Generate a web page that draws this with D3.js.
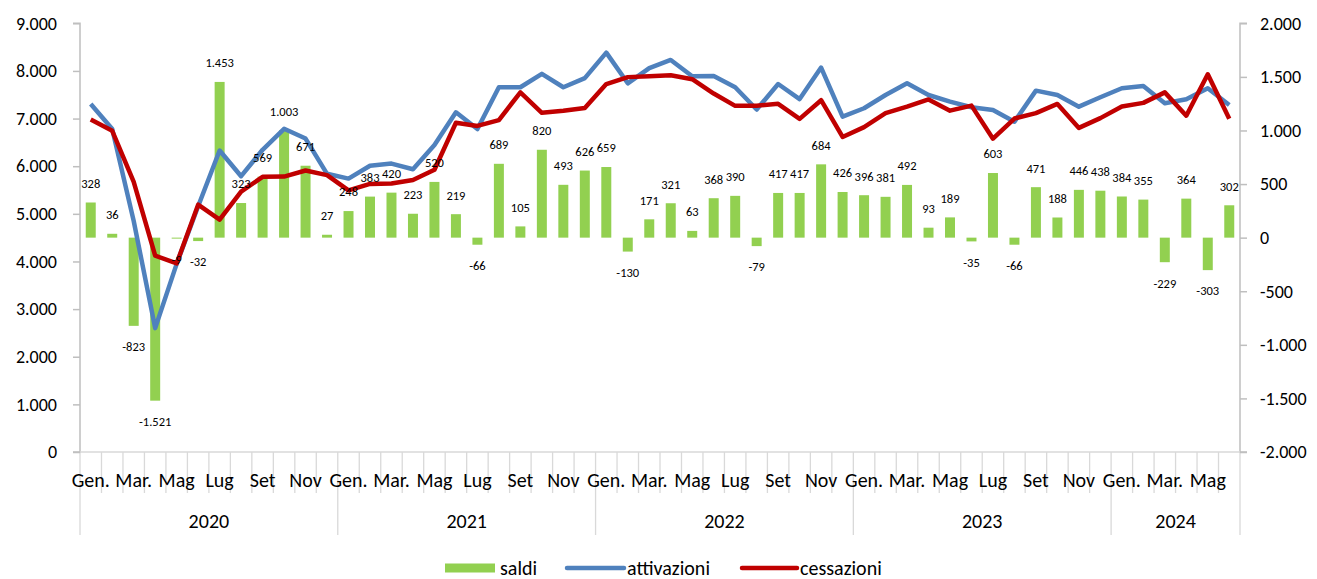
<!DOCTYPE html>
<html>
<head>
<meta charset="utf-8">
<script src="https://cdn.jsdelivr.net/npm/d3@7"></script>
<style>
  html, body { margin: 0; padding: 0; background: #fff; }
  svg { display: block; font-family: Carlito, Lato, "Liberation Sans", sans-serif; }
</style>
</head>
<body>
<svg id="chart" width="1317" height="579"></svg>
<script>
// ---- data ----
const years = ["2020", "2021", "2022", "2023", "2024"];
const monthsShown = ["Gen.", "", "Mar.", "", "Mag", "", "Lug", "", "Set", "", "Nov", ""];
const saldi = [
  328, 36, -823, -1521, -9, -32, 1453, 323, 569, 1003, 671, 27,
  248, 383, 420, 223, 520, 219, -66, 689, 105, 820, 493, 626,
  659, -130, 171, 321, 63, 368, 390, -79, 417, 417, 684, 426,
  396, 381, 492, 93, 189, -35, 603, -66, 471, 188, 446, 438,
  384, 355, -229, 364, -303, 302
];
const attivazioni = [
  7306, 6780, 4850, 2600, 3950, 5160, 6330, 5790, 6345, 6785, 6580, 5840,
  5740, 6010, 6055, 5935, 6446, 7132, 6780, 7657, 7657, 7940, 7657, 7850,
  8384, 7740, 8060, 8230, 7890, 7894, 7657, 7190, 7726, 7410, 8070, 7040,
  7216, 7495, 7741, 7495, 7355, 7237, 7180, 6935, 7586, 7495, 7250, 7447,
  7636, 7684, 7321, 7405, 7636, 7285
];
const cessazioni = [
  6978, 6744, 5673, 4121, 3959, 5192, 4877, 5467, 5776, 5782, 5909, 5813,
  5492, 5627, 5635, 5712, 5926, 6913, 6846, 6968, 7552, 7120, 7164, 7224,
  7725, 7870, 7889, 7909, 7827, 7526, 7267, 7269, 7309, 6993, 7386, 6614,
  6820, 7114, 7249, 7402, 7166, 7272, 6577, 7001, 7115, 7307, 6804, 7009,
  7252, 7329, 7550, 7060, 7930, 6995
];
const leftTicks = [0, 1000, 2000, 3000, 4000, 5000, 6000, 7000, 8000, 9000];
const rightTicks = [-2000, -1500, -1000, -500, 0, 500, 1000, 1500, 2000];
const seriesNames = ["saldi", "attivazioni", "cessazioni"];

// ---- layout ----
const svg = d3.select("#chart");
const X0 = 80, X1 = 1240, YB = 452, YT = 23.3;
const colGreen = "#92D050", colBlue = "#4F81BD", colRed = "#C00000";
const axisCol = "#BFBFBF", gridCol = "#D9D9D9";
const FF = "Carlito, Lato, sans-serif";

const loc = d3.formatLocale({decimal: ",", thousands: ".", grouping: [3], currency: ["", "€"], minus: "-"});
const fmt = loc.format(",");

const n = saldi.length;
const x = d3.scaleBand().domain(d3.range(n)).range([X0, X1]).paddingInner(0.535).paddingOuter(0.2675);
const cx = i => x(i) + x.bandwidth() / 2;
const yL = d3.scaleLinear().domain([0, 9000]).range([YB, YT]);
const yR = d3.scaleLinear().domain([-2000, 2000]).range([YB, YT]);

// category boundary lines below the axis
const step = x.step();
const bounds = d3.range(n + 1);
svg.append("g").selectAll("line").data(bounds).join("line")
  .attr("x1", i => X0 + i * step).attr("x2", i => X0 + i * step)
  .attr("y1", YB).attr("y2", i => (i % 12 === 0 || i === n) ? 535 : 493)
  .attr("stroke", gridCol).attr("stroke-width", 1.3);

// left axis
const gL = svg.append("g").attr("transform", `translate(${X0},0)`)
  .call(d3.axisLeft(yL).tickValues(leftTicks).tickFormat(fmt).tickSize(7).tickPadding(16));
// right axis
const gR = svg.append("g").attr("transform", `translate(${X1},0)`)
  .call(d3.axisRight(yR).tickValues(rightTicks).tickFormat(fmt).tickSize(7).tickPadding(13));
[gL, gR].forEach(g => {
  g.select(".domain").attr("stroke", axisCol).attr("stroke-width", 1.5);
  g.selectAll(".tick line").attr("stroke", axisCol).attr("stroke-width", 1.5);
  g.selectAll("text").attr("font-size", 18).attr("fill", "#000").attr("font-family", FF);
});
gL.select(".domain").attr("d", `M-7,${YT}H0V${YB}H-7`);
gR.select(".domain").attr("d", `M7,${YT}H0V${YB}H7`);

// bottom axis (month labels)
const gB = svg.append("g").attr("transform", `translate(0,${YB})`)
  .call(d3.axisBottom(x).tickSize(0).tickFormat(i => monthsShown[i % 12]));
gB.select(".domain").attr("stroke", gridCol).attr("stroke-width", 1.5).attr("d", `M${X0},0H${X1}`);
gB.selectAll("text").attr("y", 28).attr("dy", "0.35em").attr("font-size", 20).attr("fill", "#000")
  .attr("font-family", FF);

// year labels
svg.append("g").selectAll("text").data(years).join("text")
  .attr("x", (d, k) => {
    const a = k * 12, b = Math.min(n, a + 12);
    return X0 + (a + b) / 2 * step;
  })
  .attr("y", 521).attr("dy", "0.35em").attr("text-anchor", "middle")
  .attr("font-size", 20).attr("fill", "#000").text(d => d);

// bars
svg.append("g").selectAll("rect").data(saldi).join("rect")
  .attr("x", (d, i) => x(i)).attr("width", x.bandwidth())
  .attr("y", d => yR(Math.max(0, d))).attr("height", d => Math.abs(yR(d) - yR(0)))
  .attr("fill", colGreen);

// lines
const line = d3.line().x((d, i) => cx(i)).y(d => yL(d));
svg.append("path").datum(attivazioni).attr("d", line).attr("fill", "none")
  .attr("stroke", colBlue).attr("stroke-width", 4.5).attr("stroke-linejoin", "round");
svg.append("path").datum(cessazioni).attr("d", line).attr("fill", "none")
  .attr("stroke", colRed).attr("stroke-width", 4.5).attr("stroke-linejoin", "round");

// data labels
svg.append("g").selectAll("text").data(saldi).join("text")
  .attr("x", (d, i) => cx(i))
  .attr("y", d => d >= 0 ? yR(d) - 19 : yR(d) + 21)
  .attr("dy", "0.35em").attr("text-anchor", "middle")
  .attr("font-size", 12.5).attr("fill", "#000").text(d => fmt(d));

// legend
const lg = svg.append("g");
const LY = 568;
lg.append("rect").attr("x", 445).attr("y", LY - 4.5).attr("width", 50).attr("height", 9).attr("fill", colGreen);
lg.append("text").attr("x", 500).attr("y", LY).attr("dy", "0.35em").attr("font-size", 20).text(seriesNames[0]);
lg.append("line").attr("x1", 567).attr("x2", 624).attr("y1", LY).attr("y2", LY)
  .attr("stroke", colBlue).attr("stroke-width", 4.5).attr("stroke-linecap", "round");
lg.append("text").attr("x", 627).attr("y", LY).attr("dy", "0.35em").attr("font-size", 20).text(seriesNames[1]);
lg.append("line").attr("x1", 742).attr("x2", 797).attr("y1", LY).attr("y2", LY)
  .attr("stroke", colRed).attr("stroke-width", 4.5).attr("stroke-linecap", "round");
lg.append("text").attr("x", 800).attr("y", LY).attr("dy", "0.35em").attr("font-size", 20).text(seriesNames[2]);
</script>
</body>
</html>
